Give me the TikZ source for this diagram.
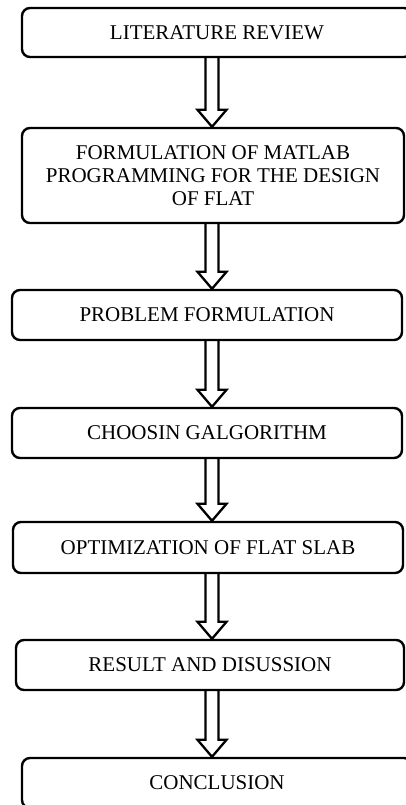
\documentclass[tikz,border=0pt]{standalone}
\usepackage{fontspec}
\setmainfont{Liberation Serif}
\usepackage{tikz}
\usetikzlibrary{calc}

\begin{document}
\begin{tikzpicture}[x=1pt, y=-1pt,
    stage/.style={draw, line width=2.4pt, rounded corners=8pt, minimum height=50pt,
        inner sep=0pt, align=center, font=\fontsize{21}{23}\selectfont},
    blockarr/.style={line width=2.3pt, to path={
        let \p1=(\tikztostart), \p2=(\tikztotarget) in
        (\x1-6.5pt,\y1) -- (\x1-6.5pt,\y2+17pt) -- (\x1-14.5pt,\y2+17pt) -- (\x1,\y2)
        -- (\x1+14.5pt,\y2+17pt) -- (\x1+6.5pt,\y2+17pt) -- (\x1+6.5pt,\y1)}} ]

            \useasboundingbox (0,0) rectangle (405,805);
            \coordinate (ax) at (212,0);

            \node[stage, minimum width=390pt, minimum height=49pt] (lit) at (217,32.5) {LITERATURE REVIEW};
            \node[stage, minimum width=382pt, minimum height=95pt] (matlab) at (213,175.5)
                {FORMULATION OF MATLAB\\PROGRAMMING FOR THE DESIGN\\OF FLAT};
            \node[stage, minimum width=390pt] (prob) at (207,315) {PROBLEM FORMULATION};
            \node[stage, minimum width=390pt] (algo) at (207,433) {CHOOSIN GALGORITHM};
            \node[stage, minimum width=390pt, minimum height=51pt] (opt) at (208,547.5) {OPTIMIZATION OF FLAT SLAB};
            \node[stage, minimum width=388pt] (res) at (210,665) {RESULT AND DISUSSION};
            \node[stage, minimum width=390pt] (concl) at (217,783) {CONCLUSION};

            \foreach \a/\b in {lit/matlab,matlab/prob,prob/algo,algo/opt,opt/res,res/concl}
                \draw[blockarr] (\a.south -| ax) to (\b.north -| ax);

        \end{tikzpicture}
\end{document}
